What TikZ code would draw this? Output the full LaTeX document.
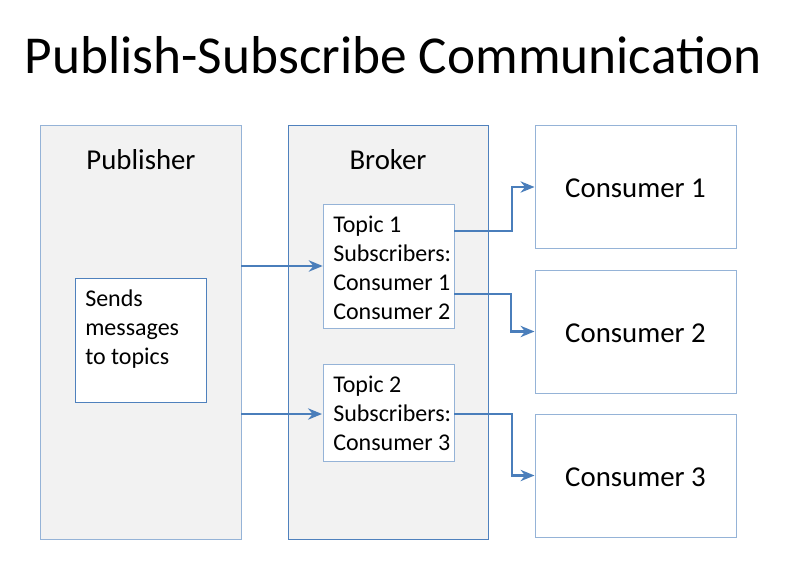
\documentclass[tikz,border=0pt]{standalone}
\usepackage{fontspec}
\setmainfont{Carlito}
\usetikzlibrary{arrows.meta}
\definecolor{panelfill}{HTML}{F2F2F2}
\definecolor{lightedge}{HTML}{95B3D7}
\definecolor{darkedge}{HTML}{4F81BD}
\definecolor{arrowblue}{HTML}{4A7EBB}
\tikzset{
  panel/.style={draw=lightedge, fill=panelfill, line width=0.75pt},
  darkpanel/.style={draw=darkedge, fill=panelfill, line width=0.75pt},
  whitebox/.style={draw=lightedge, fill=white, line width=0.75pt},
  darkwhitebox/.style={draw=darkedge, fill=white, line width=0.75pt},
  bigtext/.style={font=\fontsize{21.6}{26}\selectfont, inner sep=0pt},
  smalltext/.style={font=\fontsize{18}{21.8}\selectfont, inner sep=0pt, anchor=base west},
  arr/.style={draw=arrowblue, line width=1.7pt, -{Stealth[length=10.5pt,width=8.5pt,inset=3.5pt]}},
}
\begin{document}
\begin{tikzpicture}[x=0.75pt,y=-0.75pt]
\useasboundingbox (0,0) rectangle (795,563);
% title
\node[font=\fontsize{40}{48}\selectfont, inner sep=0pt, anchor=base] (title) at (393.5,74) {Publish-Subscribe Communication};
% panels
\path[panel] (40,126) rectangle (241,539);
\node[bigtext, anchor=base] (publ) at (141,169) {Publisher};
\path[darkpanel] (288,126) rectangle (488,539);
\node[bigtext, anchor=base] (brokl) at (388,169) {Broker};
% sends box
\path[darkwhitebox] (75,278) rectangle (206,402);
\node[smalltext] (s1) at (85,306) {Sends};
\node[smalltext] (s2) at (85,335) {messages};
\node[smalltext] (s3) at (85,364) {to topics};
% topic boxes
\path[whitebox] (323,204) rectangle (454,328);
\node[inner sep=0pt, minimum width=98.25pt, minimum height=93pt] (t1) at (388.5,266) {};
\node[smalltext] (t1a) at (333,232) {Topic 1};
\node[smalltext] (t1b) at (333,261) {Subscribers:};
\node[smalltext] (t1c) at (333,290) {Consumer 1};
\node[smalltext] (t1d) at (333,319) {Consumer 2};
\path[whitebox] (323,364) rectangle (454,461);
\node[inner sep=0pt, minimum width=98.25pt, minimum height=72.75pt] (t2) at (388.5,412.5) {};
\node[smalltext] (t2a) at (333,392) {Topic 2};
\node[smalltext] (t2b) at (333,421) {Subscribers:};
\node[smalltext] (t2c) at (333,450) {Consumer 3};
% consumers
\node[whitebox, minimum width=150.75pt, minimum height=91.5pt, inner sep=0pt] (c1) at (635.5,187) {};
\node[bigtext, anchor=base] (c1l) at (635.5,197) {Consumer 1};
\node[whitebox, minimum width=150.75pt, minimum height=92.25pt, inner sep=0pt] (c2) at (635.5,331.5) {};
\node[bigtext, anchor=base] (c2l) at (635.5,342) {Consumer 2};
\node[whitebox, minimum width=150.75pt, minimum height=92.25pt, inner sep=0pt] (c3) at (635.5,475.5) {};
\node[bigtext, anchor=base] (c3l) at (635.5,486) {Consumer 3};
% connectors
\coordinate (p1) at (241,266);
\coordinate (p2) at (241,414);
\coordinate (q2) at (322,414);
\draw[arr] (p1) -- (t1.west);
\draw[arr] (p2) -- (q2);
\coordinate (o1) at (454,231);
\coordinate (o2) at (454,294);
\coordinate (o3) at (454,414);
\coordinate (b1) at (512,231);
\coordinate (b2) at (511,294);
\coordinate (b3) at (512,414);
\draw[arr] (o1) -- (b1) |- (c1.west);
\draw[arr] (o2) -- (b2) |- (c2.west);
\draw[arr] (o3) -- (b3) |- (c3.west);
\end{tikzpicture}
\end{document}
